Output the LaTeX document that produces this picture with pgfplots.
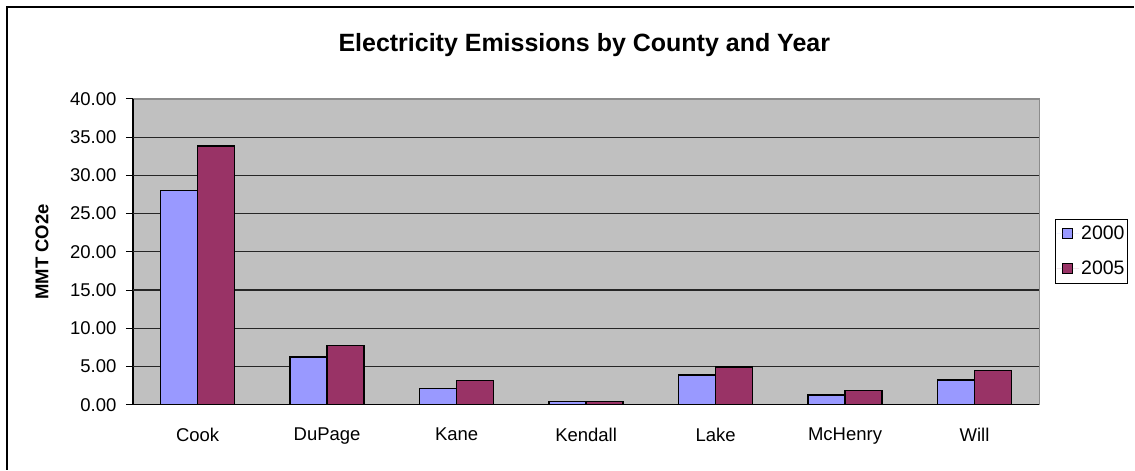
\documentclass[border=0pt]{standalone}
\usepackage{fontspec}
\setmainfont{Liberation Sans}
\usepackage{pgfplots}
\pgfplotsset{compat=1.18}
\definecolor{plotgray}{HTML}{C0C0C0}
\definecolor{lav}{HTML}{9999FF}
\definecolor{plum}{HTML}{993366}
\newcommand\chartfont{\fontsize{18.5bp}{22bp}\selectfont}

\begin{document}
\begin{tikzpicture}
\path (0,0) rectangle (1135bp,470bp);
% chart frame
\draw[line width=1.6bp] (7bp,0) -- (7bp,463bp) -- (1135bp,463bp);
\begin{axis}[
  at={(133bp,65bp)}, anchor=south west,
  width=907bp, height=306bp, scale only axis,
  xmin=-0.5, xmax=6.5, ymin=0, ymax=40,
  axis background/.style={fill=plotgray, draw=gray!90, line width=1.2bp},
  axis lines*=left,
  axis line style={-, black, line width=1.2bp},
  tick align=outside,
  font=\chartfont,
  ytick={0,5,...,40},
  yticklabel style={xshift=-6bp, /pgf/number format/.cd, fixed, fixed zerofill, precision=2, assume math mode=true},
  extra y ticks={5,10,...,35},
  extra y tick labels={},
  extra y tick style={grid=major, major tick length=0pt},
  grid style={black!85, line width=1.1bp},
  major tick length=7bp,
  minor tick length=7bp,
  tick style={black, line width=1bp},
  xtick={0,...,6},
  xticklabels={Cook,DuPage,Kane,Kendall,Lake,McHenry,Will},
  xtick style={draw=none},
  minor xtick={-0.5,0.5,...,6.5},
  xticklabel style={yshift=-13bp},
  ybar=0pt, bar width=37bp,
  ylabel={MMT CO2e},
  ylabel style={at={(axis description cs:-0.1003,0.5)}, anchor=center, font=\bfseries\chartfont},
  title={Electricity Emissions by County and Year},
  title style={at={(axis description cs:0.498,1.137)}, anchor=base, font=\bfseries\fontsize{25bp}{29bp}\selectfont},
  legend style={at={(axis description cs:1.0176,0.608)}, anchor=north west, draw=black, line width=1bp, fill=white, font=\fontsize{19.5bp}{23bp}\selectfont, inner xsep=1bp, inner ysep=5bp, row sep=16bp},
  legend cell align=left,
]
\addplot[fill=lav, draw=black, line width=1.5bp,
  legend image code/.code={\draw[fill=lav, draw=black, line width=1bp] (0bp,-5bp) rectangle (10bp,5bp); \path[draw=none] (-6bp,0bp) -- (16.5bp,0bp);}]
  coordinates {(0,28.05) (1,6.22) (2,2.09) (3,0.39) (4,3.88) (5,1.26) (6,3.22)};
\addplot[fill=plum, draw=black, line width=1.5bp,
  legend image code/.code={\draw[fill=plum, draw=black, line width=1bp] (0bp,-5bp) rectangle (10bp,5bp); \path[draw=none] (-6bp,0bp) -- (16.5bp,0bp);}]
  coordinates {(0,33.86) (1,7.75) (2,3.18) (3,0.39) (4,4.92) (5,1.87) (6,4.49)};
\legend{2000,2005}
\end{axis}
\end{tikzpicture}
\end{document}
